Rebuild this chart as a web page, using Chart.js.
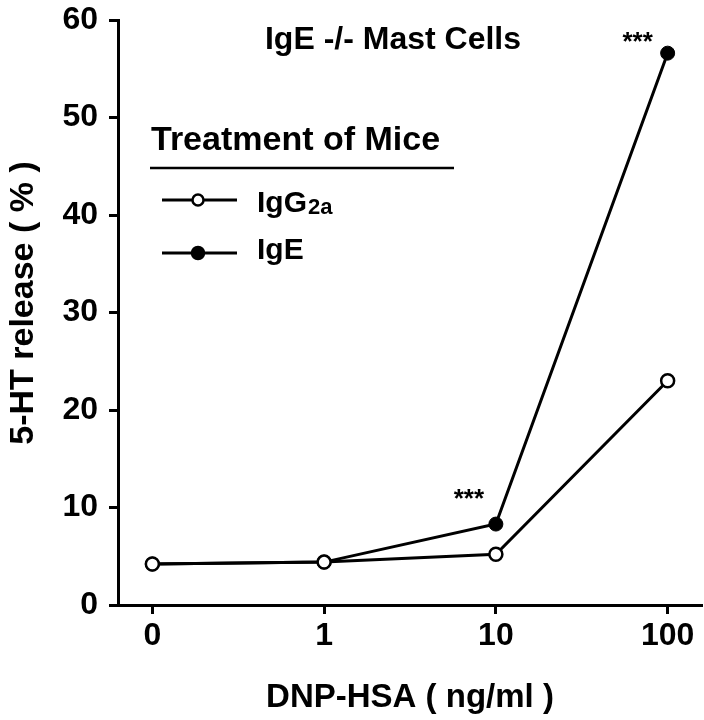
<!DOCTYPE html>
<html>
<head>
<meta charset="utf-8">
<script src="https://cdn.jsdelivr.net/npm/chart.js@4"></script>
<style>
  html, body { margin: 0; padding: 0; background: #fff; overflow: hidden; }
  canvas { display: block; }
</style>
</head>
<body>
<canvas id="chart" width="704" height="720"></canvas>
<script>
const doses = ["0", "1", "10", "100"];
const igg2aRelease = [4.2, 4.4, 5.2, 23.0];
const igeRelease = [4.2, 4.4, 8.3, 56.6];
const yTicks = [0, 10, 20, 30, 40, 50, 60];
const significance = ["", "", "***", "***"]; // IgE vs IgG2a

const FONT = "'Liberation Sans', Arial, Helvetica, sans-serif";

function toPoints(values) {
  return values.map((v, i) => ({ x: i, y: v }));
}

function bold(size) {
  return { family: FONT, size: size, weight: "bold" };
}

// star offsets from the IgE point, per dose index
const starOffset = { 2: [-27, -30], 3: [-30, -16] };

const figureText = {
  id: "figureText",
  afterDatasetsDraw(chart) {
    const ctx = chart.ctx;
    ctx.save();
    ctx.fillStyle = "#000";
    ctx.strokeStyle = "#000";

    // title
    ctx.font = "bold 32px " + FONT;
    ctx.textAlign = "center";
    ctx.textBaseline = "alphabetic";
    ctx.fillText("IgE -/- Mast Cells", 393, 49);

    // y axis title
    ctx.save();
    ctx.translate(24, 303);
    ctx.rotate(-Math.PI / 2);
    ctx.font = "bold 34px " + FONT;
    ctx.textBaseline = "middle";
    ctx.fillText("5-HT release ( % )", 0, 0);
    ctx.restore();

    // legend
    ctx.textAlign = "left";
    ctx.textBaseline = "alphabetic";
    ctx.font = "bold 34px " + FONT;
    ctx.fillText("Treatment of Mice", 151, 150);
    ctx.lineWidth = 2.5;
    ctx.beginPath();
    ctx.moveTo(150, 168);
    ctx.lineTo(454, 168);
    ctx.stroke();

    const rows = [
      { y: 200, fill: "#fff", r: 5.5 },
      { y: 253, fill: "#000", r: 6 },
    ];
    rows.forEach((row) => {
      ctx.lineWidth = 3;
      ctx.beginPath();
      ctx.moveTo(162, row.y);
      ctx.lineTo(237, row.y);
      ctx.stroke();
      ctx.beginPath();
      ctx.arc(198, row.y, row.r, 0, Math.PI * 2);
      ctx.fillStyle = row.fill;
      ctx.fill();
      ctx.lineWidth = 2.5;
      ctx.stroke();
    });
    ctx.fillStyle = "#000";
    ctx.font = "bold 30px " + FONT;
    ctx.fillText("IgG", 257, 212);
    const w = ctx.measureText("IgG").width;
    ctx.font = "bold 22px " + FONT;
    ctx.fillText("2a", 257 + w + 1, 214);
    ctx.font = "bold 30px " + FONT;
    ctx.fillText("IgE", 257, 259);

    // significance marks
    const meta = chart.getDatasetMeta(1);
    ctx.font = "bold 26px " + FONT;
    ctx.textAlign = "center";
    significance.forEach((s, i) => {
      if (!s) return;
      const pt = meta.data[i];
      const off = starOffset[i] || [-28, -28];
      ctx.fillText(s, pt.x + off[0], pt.y + off[1] + 13);
    });
    ctx.restore();
  },
};

const axisGrid = {
  drawOnChartArea: false,
  drawTicks: true,
  tickLength: 9,
  tickWidth: 3,
  tickColor: "#000",
};

const chart = new Chart(document.getElementById("chart").getContext("2d"), {
  type: "line",
  data: {
    datasets: [
      {
        label: "IgG2a",
        data: toPoints(igg2aRelease),
        borderColor: "#000",
        borderWidth: 3,
        pointRadius: 6.5,
        pointBackgroundColor: "#fff",
        pointBorderColor: "#000",
        pointBorderWidth: 2.5,
        tension: 0,
      },
      {
        label: "IgE",
        data: toPoints(igeRelease),
        borderColor: "#000",
        borderWidth: 3,
        pointRadius: 7,
        pointBackgroundColor: "#000",
        pointBorderColor: "#000",
        pointBorderWidth: 1,
        tension: 0,
      },
    ],
  },
  options: {
    responsive: false,
    devicePixelRatio: 1,
    animation: false,
    layout: { autoPadding: false, padding: { top: 20, right: 2, left: 0, bottom: 0 } },
    plugins: { legend: { display: false }, tooltip: { enabled: false } },
    scales: {
      x: {
        type: "linear",
        min: -0.2,
        max: 3.2,
        afterBuildTicks: (axis) => {
          axis.ticks = doses.map((d, i) => ({ value: i }));
        },
        afterFit: (axis) => {
          axis.height = 115;
          axis.paddingLeft = 0;
          axis.paddingRight = 0;
        },
        ticks: {
          callback: (v) => doses[v],
          font: bold(32),
          color: "#000",
          padding: 3,
          maxRotation: 0,
          autoSkip: false,
        },
        grid: axisGrid,
        border: { color: "#000", width: 3 },
        title: {
          display: true,
          text: "DNP-HSA ( ng/ml )",
          font: bold(33),
          color: "#000",
          padding: { top: 0, bottom: 2 },
        },
      },
      y: {
        min: 0,
        max: 60,
        afterBuildTicks: (axis) => {
          axis.ticks = yTicks.map((v) => ({ value: v }));
        },
        afterFit: (axis) => {
          axis.width = 118;
          axis.paddingTop = 0;
          axis.paddingBottom = 0;
        },
        ticks: { font: bold(32), color: "#000", padding: 11 },
        grid: axisGrid,
        border: { color: "#000", width: 3 },
      },
    },
  },
  plugins: [figureText],
});
</script>
</body>
</html>
